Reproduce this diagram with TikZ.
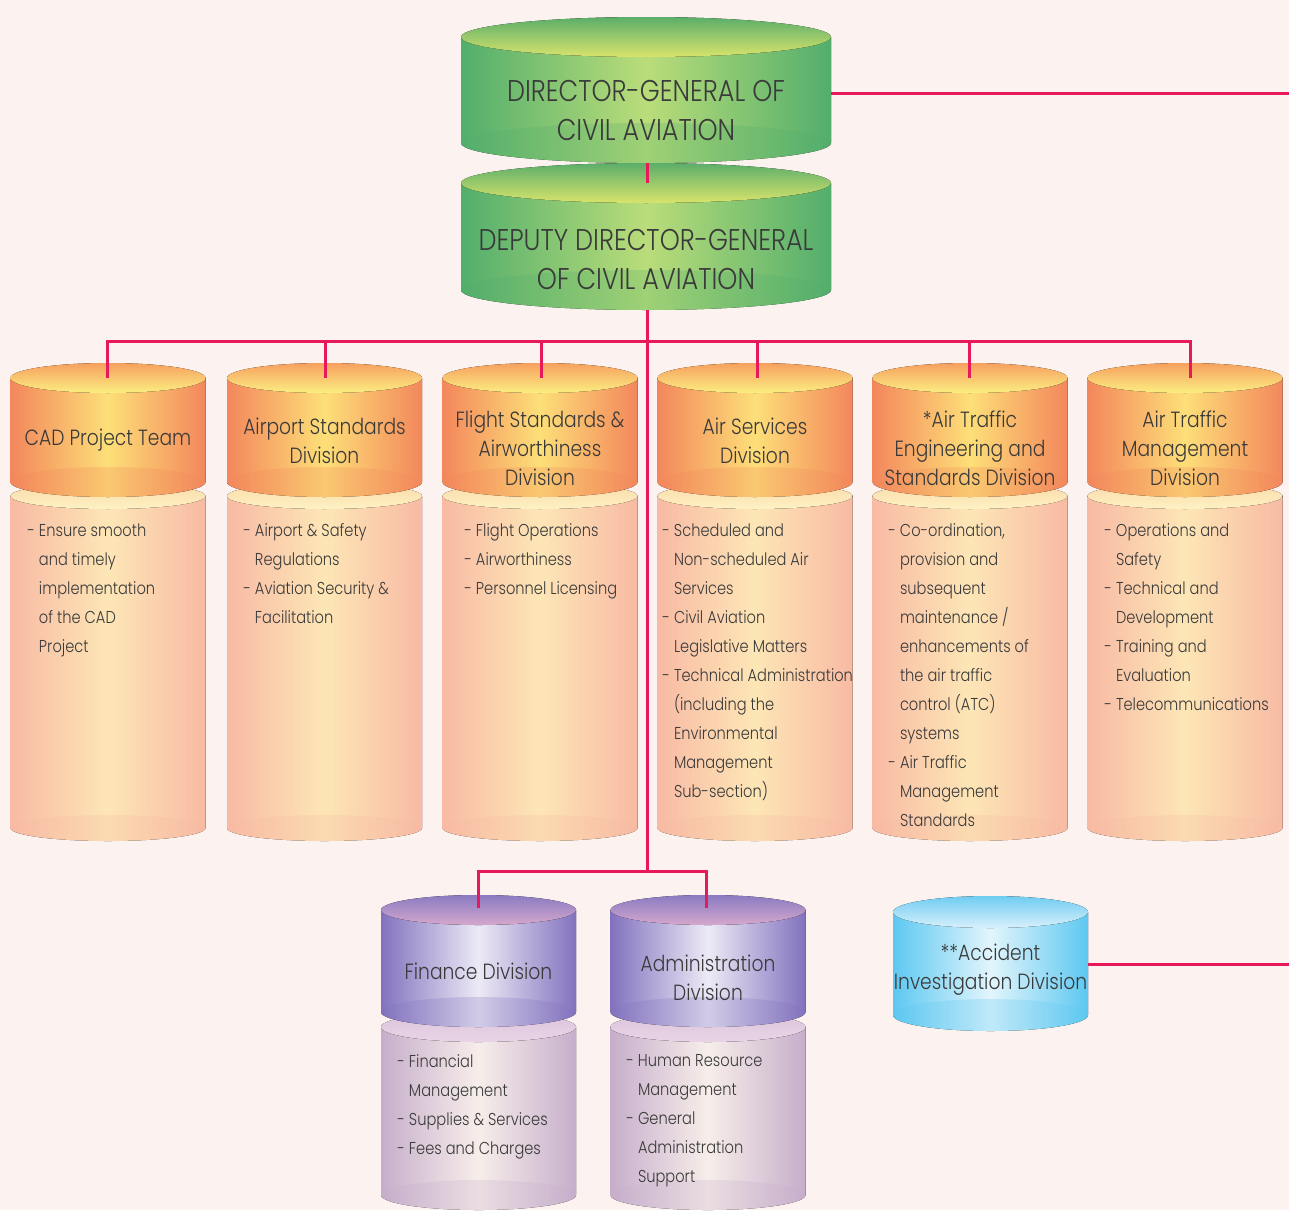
\documentclass[tikz,border=0pt]{standalone}
\usepackage{fontspec}
\setmainfont{Poppins}[UprightFont={* Light}, FakeStretch=0.85]
\usepackage{tikz}
\usetikzlibrary{positioning, calc}

\definecolor{bg}{HTML}{FCF3F0}
\definecolor{linkred}{HTML}{E8195A}
\definecolor{ink}{HTML}{3A3A3A}
% green
\definecolor{grEdge}{HTML}{52AE6C}
\definecolor{grMid}{HTML}{BADD7A}
\definecolor{grTop}{HTML}{5CAE6A}
\definecolor{grCap}{HTML}{D8E46C}
% orange heads
\definecolor{orEdge}{HTML}{F3875C}
\definecolor{orMid}{HTML}{FDDF78}
\definecolor{orTop}{HTML}{F6A05E}
\definecolor{orCap}{HTML}{FCEE82}
% orange bodies
\definecolor{pcEdge}{HTML}{F8BAA4}
\definecolor{pcMid}{HTML}{FDE6B6}
\definecolor{pcTop}{HTML}{FCD9A8}
\definecolor{pcCap}{HTML}{FDF2C4}
% purple heads
\definecolor{puEdge}{HTML}{8272BE}
\definecolor{puMid}{HTML}{EDEAF6}
\definecolor{puTop}{HTML}{8A7BC2}
\definecolor{puCap}{HTML}{D4A8CC}
% purple bodies
\definecolor{plEdge}{HTML}{C6AECB}
\definecolor{plMid}{HTML}{F7EEEA}
\definecolor{plTop}{HTML}{DCC4DC}
\definecolor{plCap}{HTML}{E8D4E6}
% blue
\definecolor{blEdge}{HTML}{5DC8F1}
\definecolor{blMid}{HTML}{E2F5FC}
\definecolor{blTop}{HTML}{70CDF2}
\definecolor{blCap}{HTML}{D8F0FB}

% drum: centre x, top y, bottom y, x radius, y radius, colour prefix
\newcommand{\drum}[6]{%
	\fill[left color=#6Edge, right color=#6Edge, middle color=#6Mid]
		(#1-#4,#2) -- (#1-#4,#3)
		arc[start angle=180, end angle=360, x radius=#4*0.5pt, y radius=#5*0.5pt]
		-- (#1+#4,#2) -- cycle;
	\fill[#6Edge, opacity=.25] (#1,#3) ellipse[x radius=#4*0.5pt, y radius=#5*0.5pt];
	\fill[top color=#6Top, bottom color=#6Cap] (#1,#2) ellipse[x radius=#4*0.5pt, y radius=#5*0.5pt];
}
\newcommand{\hang}{\phantom{- }}

\begin{document}
\begin{tikzpicture}[x=0.5pt,y=-0.5pt]
	\def \barone{341}
	\def \bartwo{871}
	\def \hdtop{378}
	\def \hdbot{482}
	\def \bdtop{496}
	\def \bdbot{828}
	\def \bdtxt{523}
	\tikzstyle{link}=[draw=linkred, line width=1.5pt]
	\tikzstyle{top-lbl}=[align=center, text=ink, font=\fontsize{15}{19.5}\selectfont]
	\tikzstyle{hd-lbl}=[align=center, text=ink, font=\fontsize{11}{14.5}\selectfont]
	\tikzstyle{bd-lbl}=[anchor=north west, align=left, inner sep=0pt, text=ink, font=\fontsize{8.6}{14.5}\selectfont]

	\useasboundingbox (0,0) rectangle (1289,1210);
	\fill[bg] (0,0) rectangle (1289,1210);

	% directors
	\drum{646}{37}{143}{185}{20}{gr}
	\drum{646}{183}{290}{185}{20}{gr}
	\node[top-lbl] (dg) at (646,110) {DIRECTOR-GENERAL OF\\CIVIL AVIATION};
	\node[top-lbl] (ddg) at (646,259) {DEPUTY DIRECTOR-GENERAL\\OF CIVIL AVIATION};

	% divisions
	\foreach \cx in {108,324.5,540,755,970,1185} {
		\drum{\cx}{\bdtop}{\bdbot}{97.5}{13}{pc}
		\drum{\cx}{\hdtop}{\hdbot}{97.5}{15}{or}
	}
	\node[hd-lbl] (cad) at (108,440) {CAD Project Team};
	\node[hd-lbl] (asd) at (324.5,441) {Airport Standards\\Division};
	\node[hd-lbl] (fsa) at (540,448) {Flight Standards \&\\Airworthiness\\Division};
	\node[hd-lbl] (asv) at (755,441) {Air Services\\Division};
	\node[hd-lbl] (ate) at (970,448) {*Air Traffic\\Engineering and\\Standards Division};
	\node[hd-lbl] (atm) at (1185,448) {Air Traffic\\Management\\Division};

	\node[bd-lbl] (cad-txt) at (27,\bdtxt) {- Ensure smooth\\\hang and timely\\\hang implementation\\\hang of the CAD\\\hang Project};
	\node[bd-lbl] (asd-txt) at (243,\bdtxt) {- Airport \& Safety\\\hang Regulations\\- Aviation Security \&\\\hang Facilitation};
	\node[bd-lbl] (fsa-txt) at (464,\bdtxt) {- Flight Operations\\- Airworthiness\\- Personnel Licensing};
	\node[bd-lbl] (asv-txt) at (662,\bdtxt) {- Scheduled and\\\hang Non-scheduled Air\\\hang Services\\- Civil Aviation\\\hang Legislative Matters\\- Technical Administration\\\hang (including the\\\hang Environmental\\\hang Management\\\hang Sub-section)};
	\node[bd-lbl] (ate-txt) at (888,\bdtxt) {- Co-ordination,\\\hang provision and\\\hang subsequent\\\hang maintenance /\\\hang enhancements of\\\hang the air traffic\\\hang control (ATC)\\\hang systems\\- Air Traffic\\\hang Management\\\hang Standards};
	\node[bd-lbl] (atm-txt) at (1104,\bdtxt) {- Operations and\\\hang Safety\\- Technical and\\\hang Development\\- Training and\\\hang Evaluation\\- Telecommunications};

	% support
	\foreach \cx in {478.5,708} {
		\drum{\cx}{1027}{1195}{97.5}{15}{pl}
		\drum{\cx}{910}{1012}{97.5}{15}{pu}
	}
	\node[hd-lbl] (fin) at (478.5,971) {Finance Division};
	\node[hd-lbl] (adm) at (708,978) {Administration\\Division};
	\node[bd-lbl] (fin-txt) at (397,1054) {- Financial\\\hang Management\\- Supplies \& Services\\- Fees and Charges};
	\node[bd-lbl] (adm-txt) at (626,1054) {- Human Resource\\\hang Management\\- General\\\hang Administration\\\hang Support};

	% accident investigation
	\drum{990.5}{912}{1015}{97.5}{16}{bl}
	\node[hd-lbl] (aid) at (990.5,970) {**Accident\\Investigation Division};

	% connectors
	\coordinate (dg-east) at (831,93);
	\coordinate (dg-out) at (1289,93);
	\coordinate (dg-bot) at (647,163);
	\coordinate (ddg-top) at (647,183);
	\coordinate (ddg-bot) at (647,310);
	\coordinate (hub) at (647,\barone);
	\coordinate (fork) at (647,\bartwo);
	\coordinate (cad-top) at (107,\hdtop);
	\coordinate (asd-top) at (325,\hdtop);
	\coordinate (fsa-top) at (541,\hdtop);
	\coordinate (asv-top) at (757,\hdtop);
	\coordinate (ate-top) at (969,\hdtop);
	\coordinate (atm-top) at (1190,\hdtop);
	\coordinate (fin-top) at (478,908);
	\coordinate (adm-top) at (706,908);
	\coordinate (aid-east) at (1088,964);
	\coordinate (aid-out) at (1289,964);

	\draw[link] (dg-east) -- (dg-out);
	\draw[link] (dg-bot) -- (ddg-top);
	\draw[link] (ddg-bot) -- (fork);
	\foreach \n in {cad,asd,fsa,asv,ate,atm}
		\draw[link] (hub) -| (\n-top);
	\draw[link] (fork) -| (fin-top);
	\draw[link] (fork) -| (adm-top);
	\draw[link] (aid-east) -- (aid-out);
\end{tikzpicture}
\end{document}
